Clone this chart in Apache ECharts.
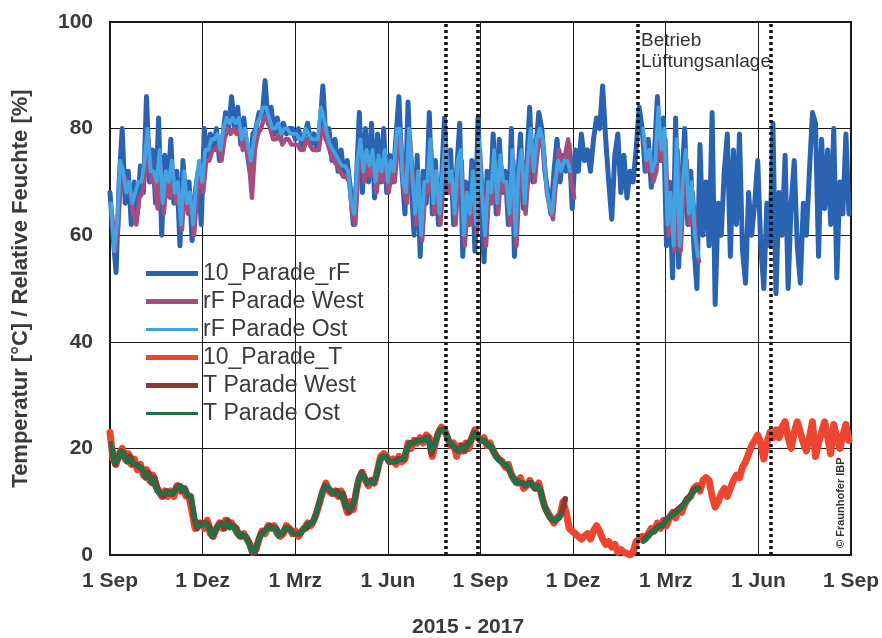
<!DOCTYPE html>
<html>
<head>
<meta charset="utf-8">
<script src="https://cdn.jsdelivr.net/npm/echarts@6/dist/echarts.min.js"></script>
<style>
  html, body { margin: 0; padding: 0; background: #fff; }
  #chart { width: 882px; height: 638px; }
</style>
</head>
<body>
<div id="chart"></div>
<script>
// Tick labels along the time axis (quarters, 1 Sep 2015 .. 1 Sep 2017)
const tickLabels = ['1 Sep', '1 Dez', '1 Mrz', '1 Jun', '1 Sep', '1 Dez', '1 Mrz', '1 Jun', '1 Sep'];
const totalDays = 731;           // 1 Sep 2015 -> 1 Sep 2017
const sampleStep = 3;            // days between stored readings

// Vertical dotted markers (day index since 1 Sep 2015)
const eventDays = [331, 363, 521, 652];

// 10_Parade_rF, relative humidity [%], from day 0
const rfParade = [
  68,60,53,70,80,66,72,62,70,64,
  73,68,86,70,76,66,82,60,75,68,
  78,66,72,58,74,65,70,59,68,72,
  62,80,74,79,76,80,74,78,83,80,
  86,80,84,77,82,76,72,79,80,83,
  82,89,81,84,79,82,78,81,79,80,
  80,78,80,77,79,81,77,79,76,80,
  88,78,80,74,78,72,76,71,74,69,
  62,70,83,68,80,70,81,67,79,70,
  80,68,75,70,78,86,72,64,85,70,
  60,75,56,72,66,83,64,74,62,70,
  82,68,76,62,72,81,56,70,62,74,
  57,82,66,55,72,66,79,64,78,68,
  72,62,80,56,70,79,65,73,84,70,
  76,83,80,72,68,64,72,78,70,75,
  72,77,65,76,72,79,74,76,72,78,
  82,80,88,78,70,63,75,79,68,75,
  67,72,70,76,84,80,72,78,69,75,
  86,74,82,58,70,52,82,54,70,80,
  62,72,58,50,77,60,70,58,83,47,
  66,60,72,79,56,76,62,79,57,51,
  68,60,66,74,58,50,66,58,81,49,
  68,60,75,50,66,74,58,51,66,60,
  72,83,81,56,78,65,76,62,80,52,
  70,64,79,64
];

// rF Parade West, first period from day 2, second period from day 527
const rfWestA = [
  64,57,61,72,71,70,68,64,62,67,
  68,72,78,70,70,65,73,64,70,67,
  72,66,68,61,70,64,66,60,68,72,
  68,74,74,76,76,77,74,78,80,79,
  80,79,80,76,78,74,67,76,79,80,
  82,82,80,78,78,79,77,78,78,77,
  77,77,76,76,78,77,76,76,76,80,
  79,77,75,74,73,72,71,71,70,64,
  62,72,76,70,74,71,74,68,73,70,
  74,68,72,70,77,78,68,66,78,70,
  62,70,59,68,68,76,64,70,62,70,
  76,68,70,62,72,74,58,66,62,70,
  60,76,66,58,68,66,74,64,73,68,
  68,62,74,58,70,74,64,72,78,70,
  76,78,76,68,65,63,70,76,73,75,
  78,70,67
];
const rfWestB = [78,72,74,70,72,80,74,78,60,66,57,76,57,68,74,62,68,59,55];

// rF Parade Ost, first period from day 1, second period from day 526
const rfOstA = [
  66,57,62,74,72,68,70,66,68,70,
  70,74,80,72,72,70,76,66,72,70,
  74,68,70,62,72,66,68,62,70,74,
  70,76,76,78,78,79,76,80,82,81,
  82,81,82,78,80,77,74,78,81,82,
  84,84,82,80,80,81,79,80,80,79,
  79,79,78,78,80,79,78,78,78,84,
  82,79,77,76,75,74,73,73,72,66,
  64,74,78,72,76,73,76,70,75,72,
  76,70,74,72,80,80,70,68,80,72,
  64,72,60,70,70,78,66,72,64,72,
  78,70,72,64,74,76,60,68,64,72,
  62,78,68,60,70,68,76,66,75,70,
  70,64,76,60,72,76,66,74,80,72,
  78,80,78,70,66,64,70,74,72,74,
  74,72
];
const rfOstB = [80,74,76,72,74,84,76,80,62,68,58,78,58,70,76,64,70,60,56];

// 10_Parade_T, temperature [°C], from day 0
const tParade = [
  23,18,17,19,20,18,19,17,18,16,
  17,15,16,14,15,13,12,11,12,11,
  12,11,13,12,12.5,11,11,8,5,6,
  6,5,6.5,4,3.5,5,6,5,6.5,5.5,
  6,5,4,3.5,4,3,2,0.5,1,3,
  4.5,4,5.5,5,5.5,4,3.5,4,5.5,5,
  4,4.5,3.5,4.5,5,6,5.5,6.5,8,10,
  12,13.5,12,11.5,12,11,12,10,8,10,
  8.5,12,14.5,15.5,14,13,14,13.5,16,18.5,
  19,18.5,17.5,18,17,18.5,17.5,18,21,20,
  21.5,21,22,21,22.5,22,18.5,21,23,24,
  23.5,22,20.5,21,18.5,20.5,19.5,21,20,22,
  23.5,22,21.5,22,20.5,21,19.5,18.5,18,17.5,
  16.5,17,15,14,13.5,14.5,12.5,13,14,13,
  12.5,13.5,11,9,8,7,6,7,7.5,10,
  8,5,4.5,4,3.5,3,3.5,4,3,4.5,
  5.5,4.5,3,2,2.5,1.5,2,0.5,1,0.5,
  0.3,0,0.5,2.5,3,3.5,3,4,5,4.5,
  6,5,6.5,5.5,7,8,7,8.5,8,9.5,
  10.5,11,12.5,13,12,14,14.5,14,11,9,
  10,11.5,12.5,11,12.5,14,15,14.5,16.5,17.5,
  19,20.5,21.5,22.5,21,18,21,23,22,23.5,
  22,24,25,22,20,23,25,23,21,19.5,
  22,25,18.5,21,23,25,22,19,24.5,22,
  20,22.5,24.5,21.5
];

// T Parade West, first period from day 2, second period from day 527
const tWestA = [
  20,17,18,19.5,19,17.5,18.5,17,17,16.5,
  16,14.5,15.5,13.5,14.5,12.5,11.5,11,12,11.5,
  11.5,12.5,13,12,12.5,11,11,7,5,6,
  6,6,5.5,3.5,4.5,5.5,6,5,6.5,5.5,
  5.5,5,3.5,3.5,3.5,2.5,0.5,0.5,2.5,4,
  4.5,5,5.5,5,5,4,4,5,5,4.5,
  4,4,4,5,5,6,6,7.5,9.5,11.5,
  13,12.5,12,11.5,12,11,11.5,9.5,8,9,
  11,14,15.5,14.5,13.5,14,13.5,15,17.5,18.5,
  18.5,17.5,17.5,17.5,18,18,18,20,21,21,
  21.5,21.5,21.5,22,22,19,20.5,22.5,23.5,23.5,
  22.5,21,20.5,20,19.5,20.5,19.5,21,21.5,23,
  22.5,21.5,21.5,21,20.5,20,19,18,17.5,17,
  16.5,15.5,14.5,14,13.5,13.5,13,13.5,13.5,12.5,
  13,12,9.5,8,7,6.5,6.5,7,8,10.5
];
const tWestB = [3,3.5,4,4.5,5,5.5,5.5,6.5,7,7.5,8,8.5,9,9.5,10.5,11,12,12.5,12.5];

// T Parade Ost, first period from day 1, second period from day 526
const tOstA = [
  21,17.5,17.5,19.5,19,17.5,18,17.5,17,16.5,
  16.5,15,15,14,14,12,11.5,11.5,11.5,12,
  11.5,12,12.5,13,12,11.5,11,9,5.5,5.5,
  5.5,6,5,3.5,4.5,5.5,5.5,5.5,6,5,
  5.5,4.5,3.5,4,3.5,2.5,1,0.5,2,3.5,
  4,5,5,5,5,3.5,4,5,5,4.5,
  4,4,4,4.5,5.5,6,6,7,9,11,
  12.5,13,12.5,11.5,11.5,11.5,11,9,9,9,
  10,13.5,15,15,13.5,13.5,13.5,14.5,17,18.5,
  18.5,18,17.5,17.5,17.5,18,18,19.5,21,21,
  21,21.5,21.5,21.5,22,20,20,22,23.5,23.5,
  23,21.5,21,20,19.5,20,20,20.5,21,22.5,
  23,21.5,21.5,21.5,20.5,20.5,19,18,17.5,17,
  17,16,14.5,13.5,14,13.5,13,13.5,13.5,12.5,
  13,12.5,10,8.5,7.5,6.5,6.5,7,7.5
];
const tOstB = [2.5,3,3.5,4.5,4.5,5.5,5.5,6,6.5,7.5,7.5,8,8.5,9,10,10.5,11.5,12,12.5];

// Pair stored readings with their day index; segments are separated by a gap
function toPoints(segments) {
  const pts = [];
  segments.forEach(function (seg, si) {
    if (si > 0) pts.push([seg.start - 1, null]);
    seg.values.forEach(function (v, i) { pts.push([seg.start + i * sampleStep, v]); });
  });
  return pts;
}

const quarter = totalDays / 8;
const font = 'Liberation Sans, Arial, Helvetica, sans-serif';
const inkColor = '#3a3a3a';

function lineSeries(name, color, width, data, extra) {
  return Object.assign({
    name: name,
    type: 'line',
    data: data,
    symbol: 'none',
    showSymbol: false,
    connectNulls: false,
    lineStyle: { color: color, width: width, join: 'round', cap: 'round' },
    itemStyle: { color: color },
    emphasis: { disabled: true },
    animation: false
  }, extra || {});
}

const legendNames = ['10_Parade_rF', 'rF Parade West', 'rF Parade Ost', '10_Parade_T', 'T Parade West', 'T Parade Ost'];
const legendThick = [5, 5, 3, 5, 5, 3];

const chart = echarts.init(document.getElementById('chart'), null, { renderer: 'canvas' });

chart.setOption({
  animation: false,
  backgroundColor: '#ffffff',
  grid: {
    left: 110, right: 30, top: 22, bottom: 83,
    show: true, borderColor: '#1a1a1a', borderWidth: 2, backgroundColor: 'transparent'
  },
  legend: {
    orient: 'vertical',
    left: 141, top: 257,
    itemWidth: 52, itemHeight: 14, itemGap: 5,
    textStyle: { fontFamily: font, fontSize: 23, lineHeight: 23, color: inkColor, padding: [0, 0, 0, 0] },
    data: legendNames.map(function (n, i) {
      const h = legendThick[i];
      return { name: n, icon: 'path://M0,0 L52,0 L52,' + h + ' L0,' + h + ' Z' };
    })
  },
  xAxis: {
    type: 'value',
    min: 0, max: totalDays, interval: quarter,
    axisLine: { show: false },
    axisTick: { show: false },
    splitLine: { show: true, lineStyle: { color: '#1a1a1a', width: 1 } },
    axisLabel: {
      margin: 16,
      fontFamily: font, fontSize: 21, fontWeight: 'bold', color: inkColor,
      formatter: function (v) { return tickLabels[Math.round(v / quarter)] || ''; }
    }
  },
  yAxis: {
    type: 'value',
    min: 0, max: 100, interval: 20,
    name: 'Temperatur [°C] / Relative Feuchte [%]',
    nameLocation: 'middle', nameGap: 78,
    nameTextStyle: { fontFamily: font, fontSize: 22, fontWeight: 'bold', color: inkColor },
    axisLine: { show: false },
    axisTick: { show: false },
    splitLine: { show: true, lineStyle: { color: '#1a1a1a', width: 1 } },
    axisLabel: { margin: 17, fontFamily: font, fontSize: 21, fontWeight: 'bold', color: inkColor }
  },
  graphic: [
    {
      type: 'text', left: 412, top: 617,
      style: { text: '2015 - 2017', font: 'bold 21px ' + font, fill: inkColor }
    },
    {
      type: 'text', left: 641, top: 30,
      style: { text: 'Betrieb\nLüftungsanlage', font: '19px ' + font, fill: '#333', lineHeight: 21 }
    },
    {
      type: 'text', x: 846, y: 548, rotation: Math.PI / 2,
      style: { text: '© Fraunhofer IBP', font: 'bold 11px ' + font, fill: '#333', textAlign: 'left', textVerticalAlign: 'bottom' }
    }
  ],
  series: [
    lineSeries('10_Parade_rF', '#2b63b3', 5, toPoints([{ start: 0, values: rfParade }]), {
      markLine: {
        silent: true, symbol: ['none', 'none'], animation: false,
        label: { show: false },
        lineStyle: { color: '#111', width: 3.5, type: [3, 3] },
        data: eventDays.map(function (d) { return { xAxis: d }; })
      }
    }),
    lineSeries('rF Parade West', '#a64d7c', 4.4, toPoints([{ start: 2, values: rfWestA }, { start: 527, values: rfWestB }])),
    lineSeries('rF Parade Ost', '#43a2e2', 3.8, toPoints([{ start: 1, values: rfOstA }, { start: 526, values: rfOstB }])),
    lineSeries('10_Parade_T', '#ee4530', 7, toPoints([{ start: 0, values: tParade }])),
    lineSeries('T Parade West', '#8a3a30', 6, toPoints([{ start: 2, values: tWestA }, { start: 527, values: tWestB }])),
    lineSeries('T Parade Ost', '#1f7247', 4.6, toPoints([{ start: 1, values: tOstA }, { start: 526, values: tOstB }]))
  ]
});
</script>
</body>
</html>
